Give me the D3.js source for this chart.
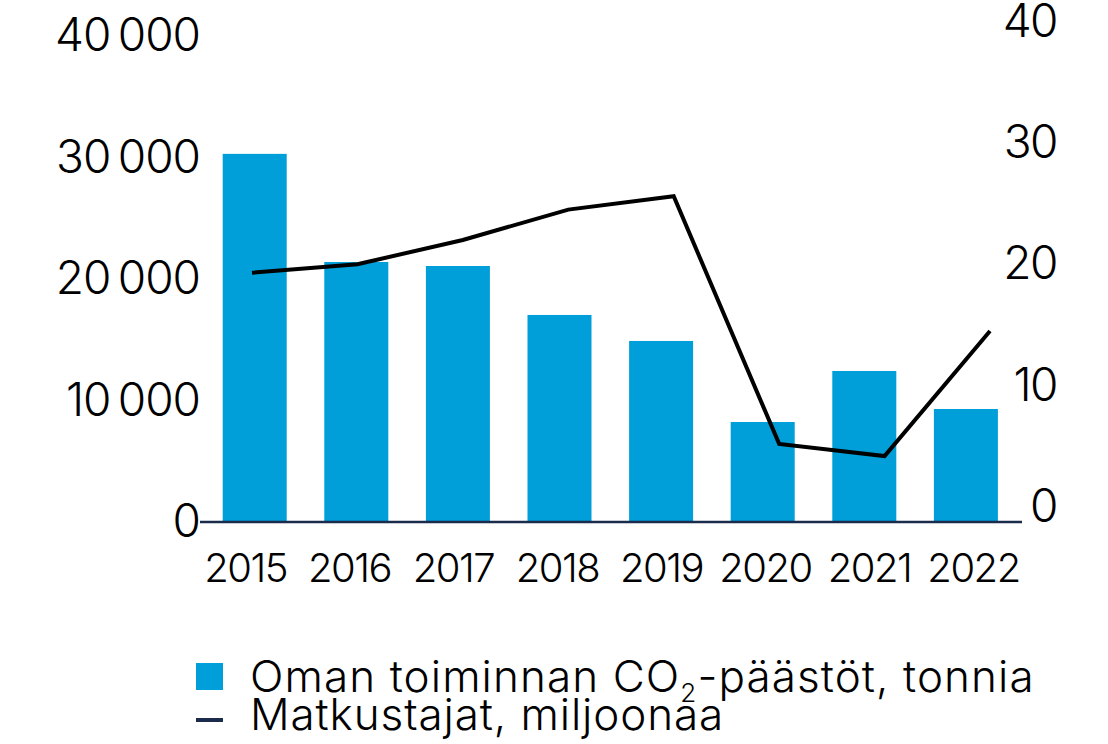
<!DOCTYPE html>
<html>
<head>
<meta charset="utf-8">
<script src="https://cdn.jsdelivr.net/npm/d3@7"></script>
<style>
  body { margin: 0; background: #fff; }
  svg text { font-family: Inter, "Noto Sans", sans-serif; font-weight: 300; fill: #000; }
</style>
</head>
<body>
<div id="chart"></div>
<script>
const years = ["2015", "2016", "2017", "2018", "2019", "2020", "2021", "2022"];
const co2Tonnes = [30300, 21400, 21070, 17040, 14900, 8230, 12430, 9300];
const passengersMillion = [19.3, 20.0, 22.0, 24.5, 25.6, 5.2, 4.2, 14.5];
const leftTicks = [0, 10000, 20000, 30000, 40000];
const rightTicks = [0, 10, 20, 30, 40];
const legendLabels = ["Oman toiminnan CO", "Matkustajat, miljoonaa"];

const width = 1108;
const height = 744;
const barColor = "#009fda";
const navy = "#1b2b4b";

const svg = d3.select("#chart")
    .append("svg")
    .attr("width", width)
    .attr("height", height);

const xBar = d3.scaleBand()
    .domain(years)
    .range([203.9, 1016.7])
    .paddingInner(0.37)
    .paddingOuter(0.185);
// the line and the year labels sit on slightly wider spacing than the bars
const xLine = d3.scalePoint().domain(years).range([252, 990]);
const xLabel = d3.scalePoint().domain(years).range([245, 973]);

const yLeft = d3.scaleLinear().domain([0, 40000]).range([522, 36]);
const yRight = d3.scaleLinear().domain([0, 40]).range([507, 21.5]);

const fmt = d3.formatLocale({ decimal: ",", thousands: "\u2009", grouping: [3], currency: ["", "€"] }).format(",d");

svg.selectAll("rect.bar")
    .data(years)
    .enter()
    .append("rect")
    .attr("class", "bar")
    .attr("x", d => xBar(d))
    .attr("y", (d, i) => yLeft(co2Tonnes[i]))
    .attr("width", xBar.bandwidth())
    .attr("height", (d, i) => yLeft(0) - yLeft(co2Tonnes[i]))
    .attr("fill", barColor);

svg.append("line")
    .attr("x1", 200)
    .attr("x2", 1022)
    .attr("y1", yLeft(0))
    .attr("y2", yLeft(0))
    .attr("stroke", navy)
    .attr("stroke-width", 2.5);

const line = d3.line()
    .x((d, i) => xLine(years[i]))
    .y(d => yRight(d));

svg.append("path")
    .datum(passengersMillion)
    .attr("d", line)
    .attr("fill", "none")
    .attr("stroke", "#000")
    .attr("stroke-width", 4)
    .attr("stroke-linejoin", "miter");

const leftAxis = svg.append("g")
    .attr("transform", "translate(200,0)")
    .call(d3.axisLeft(yLeft).tickValues(leftTicks).tickSize(0).tickPadding(0).tickFormat(fmt));

const rightAxis = svg.append("g")
    .attr("transform", "translate(1057,0)")
    .call(d3.axisRight(yRight).tickValues(rightTicks).tickSize(0).tickPadding(0));
rightAxis.selectAll("text").attr("text-anchor", "end");

const bottomAxis = svg.append("g")
    .attr("transform", `translate(0,${yLeft(0)})`)
    .call(d3.axisBottom(xLabel).tickSize(0).tickPadding(31.6));

[leftAxis, rightAxis, bottomAxis].forEach(g => {
    g.select(".domain").remove();
    g.attr("font-family", null).attr("font-size", null);
});
leftAxis.selectAll("text").style("font-size", "46px").style("letter-spacing", "-1px");
rightAxis.selectAll("text").style("font-size", "46px").style("letter-spacing", "-1.5px");
bottomAxis.selectAll("text").style("font-size", "40px").style("letter-spacing", "-1.5px");

// legend
const legend = svg.append("g");
legend.append("rect")
    .attr("x", 196).attr("y", 663).attr("width", 27).attr("height", 27)
    .attr("fill", barColor);
legend.append("rect")
    .attr("x", 196).attr("y", 718).attr("width", 27).attr("height", 4)
    .attr("fill", navy);

const t1 = legend.append("text")
    .attr("x", 250).attr("y", 692)
    .style("font-size", "44px").style("letter-spacing", "1.1px");
t1.append("tspan").text(legendLabels[0]);
t1.append("tspan").text("2").style("font-size", "26px").attr("dy", 10);
t1.append("tspan").text("-päästöt, tonnia").attr("dy", -10);

legend.append("text")
    .attr("x", 250).attr("y", 730)
    .style("font-size", "44px").style("letter-spacing", "0.9px")
    .text(legendLabels[1]);
</script>
</body>
</html>
